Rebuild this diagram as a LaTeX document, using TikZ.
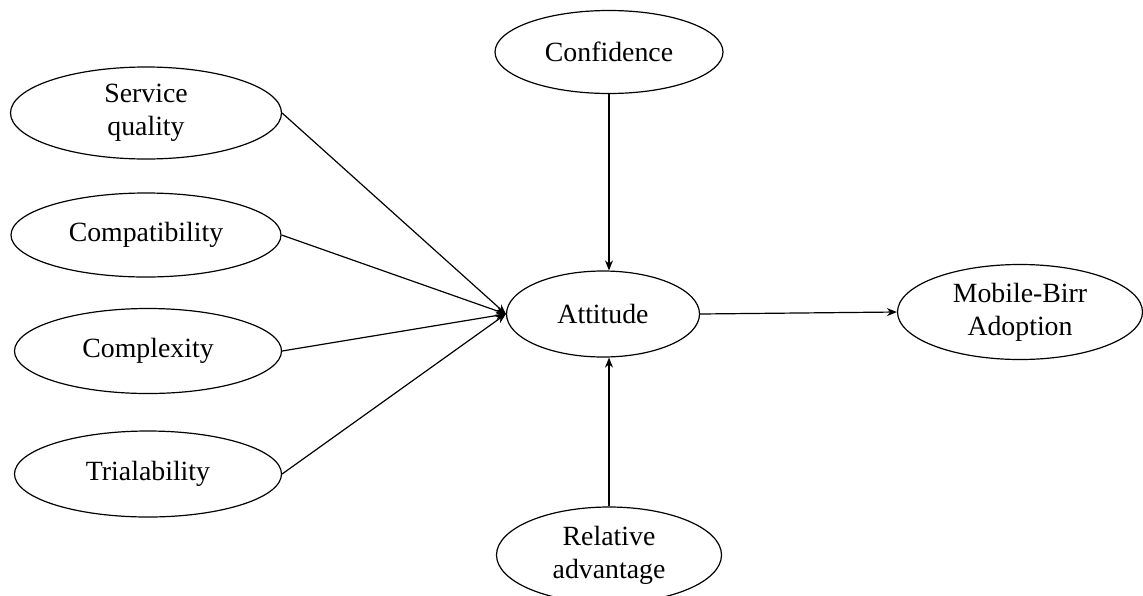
\documentclass[tikz,border=0pt]{standalone}
\usepackage{fontspec}
\setmainfont{Liberation Serif}
\usetikzlibrary{arrows.meta,shapes.geometric}

\begin{document}
\begin{tikzpicture}[x=0.5pt,y=-0.5pt,>={Stealth[length=5pt,width=4pt]},
  construct/.style={ellipse,draw,line width=0.6pt,inner sep=0pt,align=center,
    font=\fontsize{13.9}{16.5}\selectfont},
  link/.style={->,line width=0.6pt}]
\useasboundingbox (0,0) rectangle (1143,595);
\node[construct,minimum width=135.5pt,minimum height=46pt] (sq) at (146,113) {Service\\quality};
\node[construct,minimum width=135pt,minimum height=42pt] (compat) at (146,235) {Compatibility};
\node[construct,minimum width=133.5pt,minimum height=42.5pt] (compl) at (148,351) {Complexity};
\node[construct,minimum width=133.5pt,minimum height=43pt] (trial) at (148,474) {Trialability};
\node[construct,minimum width=114pt,minimum height=41.5pt] (conf) at (609,52) {Confidence};
\node[construct,minimum width=96.5pt,minimum height=43pt] (att) at (603,314) {Attitude};
\node[construct,minimum width=112.5pt,minimum height=48pt] (rel) at (609,555) {Relative\\advantage};
\node[construct,minimum width=122.5pt,minimum height=47.5pt] (mba) at (1020,312) {Mobile-Birr\\Adoption};
\draw[link] (sq.east) -- (att.west);
\draw[link] (compat.east) -- (att.west);
\draw[link] (compl.east) -- (att.west);
\draw[link] (trial.east) -- (att.west);
\draw[link] (conf.south) -- (conf.south |- att.north);
\draw[link] (rel.north) -- (rel.north |- att.south);
\draw[link] (att.east) -- (mba.west);
\end{tikzpicture}
\end{document}
